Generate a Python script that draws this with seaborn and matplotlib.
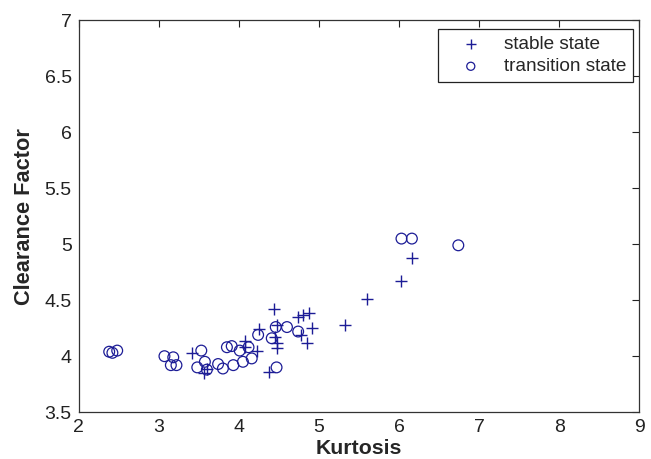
import matplotlib
matplotlib.use("Agg")
import matplotlib.pyplot as plt
import seaborn as sns
import pandas as pd

# Kurtosis / clearance-factor pairs for each operating state
stable_kurtosis = [3.42, 3.57, 3.60, 4.08, 4.08, 4.22, 4.25, 4.37, 4.44, 4.45,
                   4.47, 4.48, 4.48, 4.74, 4.80, 4.87, 4.78, 4.91, 4.85, 5.32,
                   5.60, 6.03, 6.16]
stable_clearance = [4.03, 3.85, 3.89, 4.14, 4.08, 4.05, 4.24, 3.86, 4.42, 4.17,
                    4.07, 4.28, 4.12, 4.35, 4.37, 4.39, 4.19, 4.25, 4.12, 4.28,
                    4.51, 4.67, 4.88]

transition_kurtosis = [2.38, 2.42, 2.48, 3.07, 3.18, 3.15, 3.22, 3.53, 3.48, 3.575,
                       3.60, 3.74, 3.80, 3.85, 3.91, 3.93, 4.01, 4.05, 4.12, 4.16,
                       4.24, 4.41, 4.47, 4.46, 4.60, 4.74, 6.03, 6.16, 6.74]
transition_clearance = [4.04, 4.03, 4.05, 4.00, 3.99, 3.92, 3.92, 4.05, 3.90, 3.95,
                        3.88, 3.93, 3.89, 4.08, 4.09, 3.92, 4.05, 3.95, 4.08, 3.98,
                        4.19, 4.16, 3.90, 4.26, 4.26, 4.22, 5.05, 5.05, 4.99]

x_ticks = [2, 3, 4, 5, 6, 7, 8, 9]
y_ticks = [3.5, 4, 4.5, 5, 5.5, 6, 6.5, 7]
y_tick_labels = ["3.5", "4", "4.5", "5", "5.5", "6", "6.5", "7"]

stable = pd.DataFrame({"Kurtosis": stable_kurtosis, "Clearance": stable_clearance})
transition = pd.DataFrame({"Kurtosis": transition_kurtosis, "Clearance": transition_clearance})

sns.set_style("white")
plt.rcParams["font.family"] = ["Liberation Sans", "DejaVu Sans"]

color = "#1c1c96"

fig = plt.figure(figsize=(6.51, 4.59), dpi=100)
ax = fig.add_axes([0.121, 0.102, 0.861, 0.854])

sns.scatterplot(data=stable, x="Kurtosis", y="Clearance", marker="+", s=80,
                color=color, linewidth=1.0, label="stable state", ax=ax)
sns.scatterplot(data=transition, x="Kurtosis", y="Clearance", marker="o", s=60,
                facecolors="none", edgecolor=color, linewidth=0.9,
                label="transition state", ax=ax)

ax.set_xlim(2, 9)
ax.set_ylim(3.5, 7)
ax.set_xticks(x_ticks)
ax.set_yticks(y_ticks)
ax.set_yticklabels(y_tick_labels)
ax.tick_params(direction="in", length=5, width=0.8, top=True, right=True,
               labelsize=14, colors="#222222")
ax.tick_params(axis="x", pad=5)
ax.tick_params(axis="y", pad=5)
for side in ax.spines.values():
    side.set_color("#333333")
    side.set_linewidth(0.9)

ax.set_xlabel("Kurtosis", fontsize=15.3, fontweight="bold", labelpad=2)
ax.set_ylabel("Clearance Factor", fontsize=15.7, fontweight="bold", labelpad=7)

leg = ax.legend(loc="upper right", fontsize=13.7, frameon=True, fancybox=False,
                edgecolor="#222222", framealpha=1, borderpad=0.35,
                handlelength=2.7, handletextpad=0.4, labelspacing=0.25,
                markerscale=0.75, borderaxespad=0,
                bbox_to_anchor=(0.989, 0.977))
leg.get_frame().set_linewidth(0.9)

fig.savefig("out.png", dpi=100)
